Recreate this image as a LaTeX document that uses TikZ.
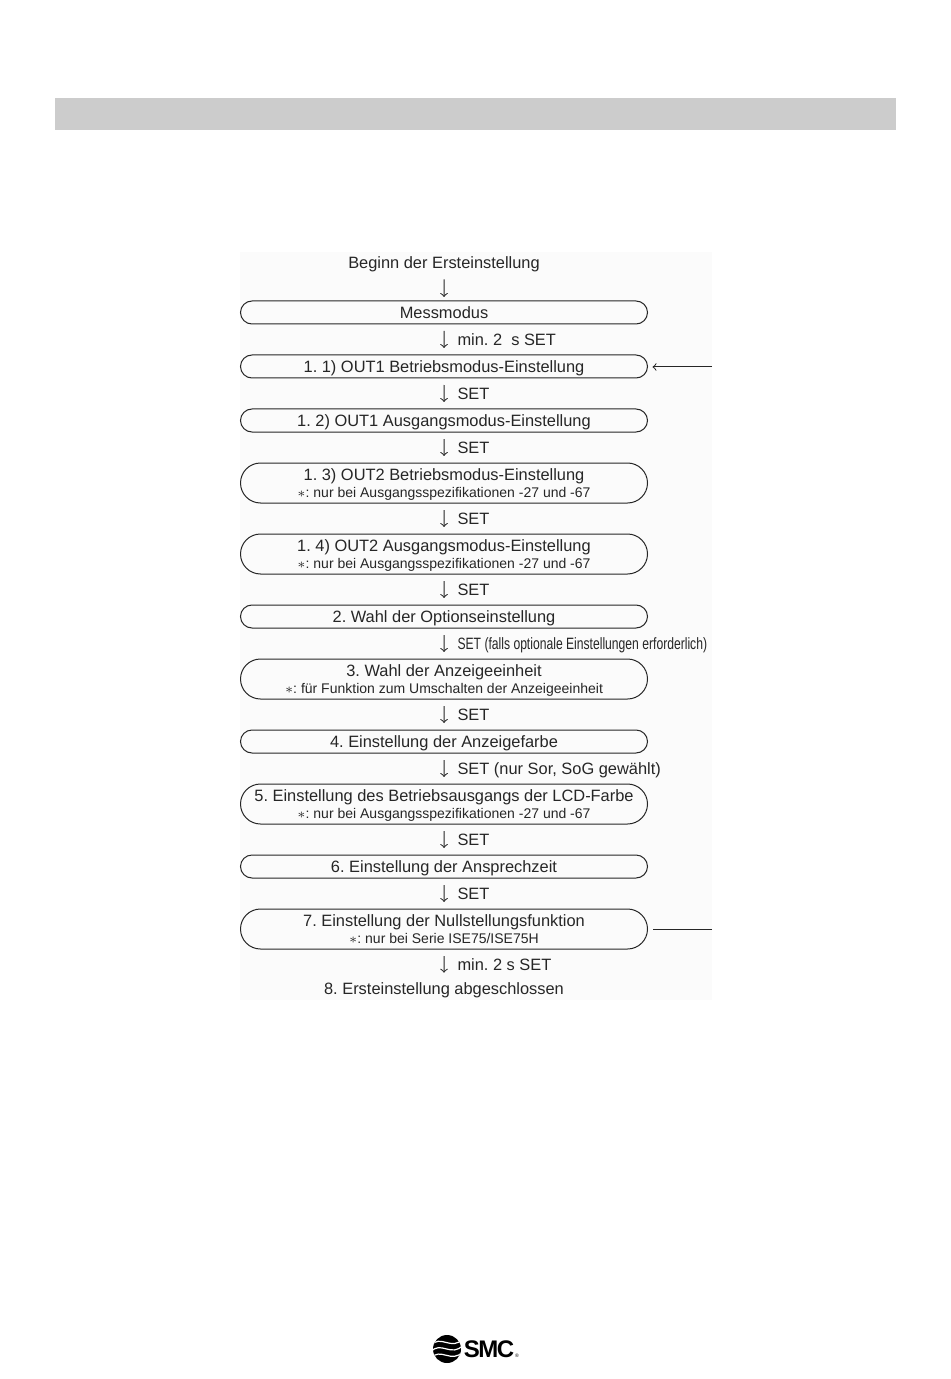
\documentclass[tikz,border=0pt]{standalone}
\usepackage{fontspec}
\setmainfont{Liberation Sans}
\usetikzlibrary{shapes.misc, arrows, positioning}
\definecolor{mbar}{HTML}{CCCCCC}
\definecolor{mpage}{HTML}{FBFBFB}
\definecolor{mink}{HTML}{262626}
\tikzstyle{steptall} = [rounded rectangle, draw = mink, line width = 0.5pt, minimum width = 203.5pt, minimum height = 20pt, inner sep = 0pt, outer sep = 0pt, align = center, text = mink, text depth = -0.5pt]
\tikzstyle{stepflat} = [steptall, minimum height = 11.5pt, text height = 7.6pt, text depth = 1.7pt]
\tikzstyle{plain} = [inner sep = 0pt, outer sep = 0pt, text = mink, text height = 7.6pt, text depth = 1.7pt]
\tikzstyle{cable} = [line width = 0.5pt, draw = mink, ->, >=to, shorten >= 3.5pt, shorten <= 3.5pt]
\tikzstyle{cue} = [right = 6.5pt, inner sep = 0pt, text = mink, text height = 7.6pt, text depth = 1.7pt]
\newcommand{\notetext}[1]{\\[-0.5pt]{\fontsize{7}{7.5}\selectfont $\ast$: #1}}
\begin{document}
\begin{tikzpicture}[x=.5pt, y=-.5pt, node distance = 15.5pt, font=\fontsize{8.2}{9}\selectfont\frenchspacing]
  \useasboundingbox (0,0) rectangle (950,1379);
  \fill [mbar] (55,98) rectangle (896,130);
  \fill [mpage] (240,252) rectangle (712,1000);
  \node (begin) [plain] at (444,263) {Beginn der Ersteinstellung};
  \node (mess) [stepflat, below = 14.35pt of begin] {Messmodus};
  \node (outa) [stepflat, below = of mess] {1. 1) OUT1 Betriebsmodus-Einstellung};
  \node (outb) [stepflat, below = of outa] {1. 2) OUT1 Ausgangsmodus-Einstellung};
  \node (outc) [steptall, below = of outb] {1. 3) OUT2 Betriebsmodus-Einstellung\notetext{nur bei Ausgangsspezifikationen -27 und -67}};
  \node (outd) [steptall, below = of outc] {1. 4) OUT2 Ausgangsmodus-Einstellung\notetext{nur bei Ausgangsspezifikationen -27 und -67}};
  \node (wahl) [stepflat, below = of outd] {2. Wahl der Optionseinstellung};
  \node (unit) [steptall, below = of wahl] {3. Wahl der Anzeigeeinheit\notetext{für Funktion zum Umschalten der Anzeigeeinheit}};
  \node (farbe) [stepflat, below = of unit] {4. Einstellung der Anzeigefarbe};
  \node (lcd) [steptall, below = of farbe] {5. Einstellung des Betriebsausgangs der LCD-Farbe\notetext{nur bei Ausgangsspezifikationen -27 und -67}};
  \node (zeit) [stepflat, below = of lcd] {6. Einstellung der Ansprechzeit};
  \node (null) [steptall, below = of zeit] {7. Einstellung der Nullstellungsfunktion\notetext{nur bei Serie ISE75/ISE75H}};
  \node (done) [plain, below = 15.35pt of null] {8. Ersteinstellung abgeschlossen};
  \coordinate (backin) at (712,367);
  \coordinate (backout) at (712,929);
  \draw [cable, shorten >= 2pt] (begin) -- (mess);
  \draw [cable] (mess) -- node [cue] {min. 2~ s SET} (outa);
  \draw [cable] (outa) -- node [cue] {SET} (outb);
  \draw [cable] (outb) -- node [cue] {SET} (outc);
  \draw [cable] (outc) -- node [cue] {SET} (outd);
  \draw [cable] (outd) -- node [cue] {SET} (wahl);
  \draw [cable] (wahl) -- node [cue] {\scalebox{.74}[1]{SET (falls optionale Einstellungen erforderlich)}} (unit);
  \draw [cable] (unit) -- node [cue] {SET} (farbe);
  \draw [cable] (farbe) -- node [cue] {SET (nur Sor, SoG gewählt)} (lcd);
  \draw [cable] (lcd) -- node [cue] {SET} (zeit);
  \draw [cable] (zeit) -- node [cue] {SET} (null);
  \draw [cable] (null) -- node [cue] {min. 2 s SET} (done);
  \draw [cable, shorten <= 0pt, shorten >= 2.5pt] (backin) -- (outa.east |- backin);
  \draw [line width = 0.5pt, draw = mink, shorten >= 2.5pt] (backout) -- (null.east |- backout);
  % logo
  \node (logo) [circle, fill = black, minimum size = 14pt, inner sep = 0pt] at (447,1349) {};
  \begin{scope}
    \clip (447,1349) circle (7pt);
    \foreach \dy in {-3.2,0,3.2}
      \draw [white, line width = 0.6pt, yshift = \dy pt] (431,1352) .. controls (440,1340) and (452,1358) .. (463,1345);
  \end{scope}
  \node (smc) [right = 1pt of logo, inner sep = 0pt, text = black, font = \fontsize{12}{12}\bfseries\selectfont] {\addfontfeature{LetterSpace=-6}SMC};
  \node (mark) [right = 0pt of smc.south east, anchor = south west, inner sep = 0pt, font = \fontsize{2.5}{3}\selectfont] {®};
\end{tikzpicture}
\end{document}
